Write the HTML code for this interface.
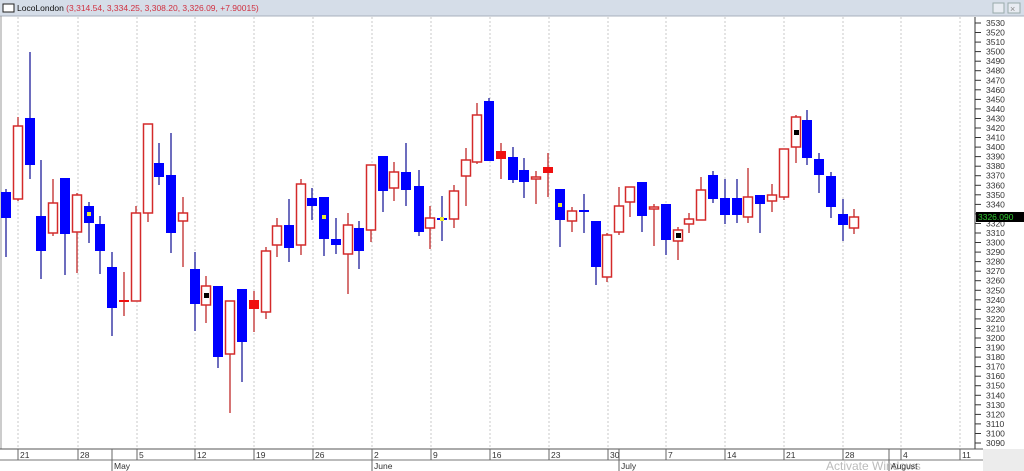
<!DOCTYPE html>
<html><head><meta charset="utf-8"><style>
body{margin:0;width:1024px;height:471px;overflow:hidden;background:#fff;font-family:"Liberation Sans",sans-serif}
svg{display:block}
.b{fill:#0000ff}.r{fill:#fff;stroke:#d42a2a;stroke-width:1.5}.f{fill:#f01010}
.wb{stroke:#3c3ca8;stroke-width:1.5}.wr{stroke:#c84646;stroke-width:1.5}
.g{stroke:#c8c8c8;stroke-dasharray:2,2;stroke-width:1}
.al{font-size:8.5px;fill:#333}
.dl{font-size:8.5px;fill:#333}
</style></head><body>
<svg width="1024" height="471" xmlns="http://www.w3.org/2000/svg">
<rect x="0" y="0" width="1024" height="16" fill="#d5dde8"/>
<line x1="0" y1="16" x2="1024" y2="16" stroke="#a8b0bc"/>
<rect x="3" y="4" width="11" height="8" fill="#fff" stroke="#222" stroke-width="1"/>
<text x="17" y="11" font-size="8.5" fill="#111">LocoLondon <tspan fill="#d03040">(3,314.54, 3,334.25, 3,308.20, 3,326.09, +7.90015)</tspan></text>
<rect x="993" y="3" width="11" height="10" fill="#e8ecf2" stroke="#9aa"/>
<rect x="1008" y="3" width="12" height="10" fill="#e8ecf2" stroke="#9aa"/>
<text x="1010" y="12" font-size="9" fill="#888">×</text>
<line x1="1" y1="16" x2="1" y2="471" stroke="#999"/>
<g class="g">
<line x1="18" y1="17" x2="18" y2="449"/><line x1="78" y1="17" x2="78" y2="449"/><line x1="137" y1="17" x2="137" y2="449"/><line x1="195" y1="17" x2="195" y2="449"/><line x1="254" y1="17" x2="254" y2="449"/><line x1="313" y1="17" x2="313" y2="449"/><line x1="372" y1="17" x2="372" y2="449"/><line x1="431" y1="17" x2="431" y2="449"/><line x1="490" y1="17" x2="490" y2="449"/><line x1="549" y1="17" x2="549" y2="449"/><line x1="608" y1="17" x2="608" y2="449"/><line x1="666" y1="17" x2="666" y2="449"/><line x1="725" y1="17" x2="725" y2="449"/><line x1="784" y1="17" x2="784" y2="449"/><line x1="843" y1="17" x2="843" y2="449"/><line x1="901" y1="17" x2="901" y2="449"/><line x1="960" y1="17" x2="960" y2="449"/>
</g>
<!-- candles -->
<line class="wb" x1="6" y1="189" x2="6" y2="257"/><rect class="b" x="1" y="192" width="10" height="26"/>
<line class="wr" x1="18" y1="117" x2="18" y2="201"/><rect class="r" x="13.5" y="126" width="9" height="73"/>
<line class="wb" x1="30" y1="52" x2="30" y2="179"/><rect class="b" x="25" y="118" width="10" height="47"/>
<line class="wb" x1="41" y1="160" x2="41" y2="279"/><rect class="b" x="36" y="216" width="10" height="35"/>
<line class="wr" x1="53" y1="179" x2="53" y2="236"/><rect class="r" x="48.5" y="203" width="9" height="30"/>
<line class="wb" x1="65" y1="178" x2="65" y2="275"/><rect class="b" x="60" y="178" width="10" height="56"/>
<line class="wr" x1="77" y1="193" x2="77" y2="273"/><rect class="r" x="72.5" y="195" width="9" height="37"/>
<line class="wb" x1="89" y1="202" x2="89" y2="243"/><rect class="b" x="84" y="206" width="10" height="17"/><rect x="87" y="212" width="4" height="4" fill="#ee3"/>
<line class="wb" x1="100" y1="216" x2="100" y2="274"/><rect class="b" x="95" y="224" width="10" height="27"/>
<line class="wb" x1="112" y1="252" x2="112" y2="336"/><rect class="b" x="107" y="267" width="10" height="41"/>
<line class="wr" x1="124" y1="272" x2="124" y2="316"/><rect class="f" x="119" y="300" width="10" height="2"/>
<line class="wr" x1="136" y1="206" x2="136" y2="301"/><rect class="r" x="131.5" y="213" width="9" height="88"/>
<line class="wr" x1="148" y1="124" x2="148" y2="222"/><rect class="r" x="143.5" y="124" width="9" height="89"/>
<line class="wb" x1="159" y1="143" x2="159" y2="185"/><rect class="b" x="154" y="163" width="10" height="14"/>
<line class="wb" x1="171" y1="133" x2="171" y2="253"/><rect class="b" x="166" y="175" width="10" height="58"/>
<line class="wr" x1="183" y1="197" x2="183" y2="267"/><rect class="r" x="178.5" y="213" width="9" height="8"/>
<line class="wb" x1="195" y1="252" x2="195" y2="331"/><rect class="b" x="190" y="269" width="10" height="35"/>
<line class="wr" x1="206" y1="276" x2="206" y2="323"/><rect class="r" x="201.5" y="286" width="9" height="19"/><rect x="204" y="293" width="5" height="5" fill="#000"/>
<line class="wb" x1="218" y1="286" x2="218" y2="368"/><rect class="b" x="213" y="286" width="10" height="71"/>
<line class="wr" x1="230" y1="301" x2="230" y2="413"/><rect class="r" x="225.5" y="301" width="9" height="53"/>
<line class="wb" x1="242" y1="289" x2="242" y2="382"/><rect class="b" x="237" y="289" width="10" height="53"/>
<line class="wr" x1="254" y1="291" x2="254" y2="332"/><rect class="f" x="249" y="300" width="10" height="9"/>
<line class="wr" x1="266" y1="247" x2="266" y2="319"/><rect class="r" x="261.5" y="251" width="9" height="61"/>
<line class="wr" x1="277" y1="218" x2="277" y2="257"/><rect class="r" x="272.5" y="226" width="9" height="19"/>
<line class="wb" x1="289" y1="199" x2="289" y2="262"/><rect class="b" x="284" y="225" width="10" height="23"/>
<line class="wr" x1="301" y1="179" x2="301" y2="255"/><rect class="r" x="296.5" y="184" width="9" height="61"/>
<line class="wb" x1="312" y1="188" x2="312" y2="220"/><rect class="b" x="307" y="198" width="10" height="8"/>
<line class="wb" x1="324" y1="197" x2="324" y2="256"/><rect class="b" x="319" y="197" width="10" height="42"/><rect x="322" y="215" width="4" height="4" fill="#ee3"/>
<line class="wb" x1="336" y1="218" x2="336" y2="254"/><rect class="b" x="331" y="239" width="10" height="6"/>
<line class="wr" x1="348" y1="213" x2="348" y2="294"/><rect class="r" x="343.5" y="225" width="9" height="29"/>
<line class="wb" x1="359" y1="221" x2="359" y2="269"/><rect class="b" x="354" y="228" width="10" height="23"/>
<line class="wr" x1="371" y1="165" x2="371" y2="242"/><rect class="r" x="366.5" y="165" width="9" height="65"/>
<line class="wb" x1="383" y1="156" x2="383" y2="212"/><rect class="b" x="378" y="156" width="10" height="35"/>
<line class="wr" x1="394" y1="162" x2="394" y2="201"/><rect class="r" x="389.5" y="172" width="9" height="16"/>
<line class="wb" x1="406" y1="143" x2="406" y2="206"/><rect class="b" x="401" y="172" width="10" height="18"/>
<line class="wb" x1="419" y1="170" x2="419" y2="236"/><rect class="b" x="414" y="186" width="10" height="46"/>
<line class="wr" x1="430" y1="206" x2="430" y2="249"/><rect class="r" x="425.5" y="218" width="9" height="10"/>
<line class="wb" x1="442" y1="196" x2="442" y2="241"/><rect class="b" x="437" y="218" width="10" height="2"/><rect x="440" y="217" width="4" height="4" fill="#ee3"/>
<line class="wr" x1="454" y1="185" x2="454" y2="228"/><rect class="r" x="449.5" y="191" width="9" height="28"/>
<line class="wr" x1="466" y1="148" x2="466" y2="206"/><rect class="r" x="461.5" y="160" width="9" height="16"/>
<line class="wr" x1="477" y1="103" x2="477" y2="164"/><rect class="r" x="472.5" y="115" width="9" height="47"/>
<line class="wb" x1="489" y1="98" x2="489" y2="161"/><rect class="b" x="484" y="101" width="10" height="60"/>
<line class="wr" x1="501" y1="143" x2="501" y2="179"/><rect class="f" x="496" y="151" width="10" height="8"/>
<line class="wb" x1="513" y1="147" x2="513" y2="183"/><rect class="b" x="508" y="157" width="10" height="23"/>
<line class="wb" x1="524" y1="158" x2="524" y2="198"/><rect class="b" x="519" y="170" width="10" height="12"/>
<line class="wr" x1="536" y1="171" x2="536" y2="204"/><rect class="r" x="531.5" y="177" width="9" height="2"/>
<line class="wr" x1="548" y1="153" x2="548" y2="197"/><rect class="f" x="543" y="167" width="10" height="6"/>
<line class="wb" x1="560" y1="189" x2="560" y2="247"/><rect class="b" x="555" y="189" width="10" height="31"/><rect x="558" y="203" width="4" height="4" fill="#ee3"/>
<line class="wr" x1="572" y1="207" x2="572" y2="232"/><rect class="r" x="567.5" y="211" width="9" height="10"/>
<line class="wb" x1="584" y1="194" x2="584" y2="233"/><rect class="b" x="579" y="210" width="10" height="2"/>
<line class="wb" x1="596" y1="221" x2="596" y2="285"/><rect class="b" x="591" y="221" width="10" height="46"/>
<line class="wr" x1="607" y1="233" x2="607" y2="282"/><rect class="r" x="602.5" y="235" width="9" height="42"/>
<line class="wr" x1="619" y1="187" x2="619" y2="235"/><rect class="r" x="614.5" y="206" width="9" height="26"/>
<line class="wr" x1="630" y1="187" x2="630" y2="217"/><rect class="r" x="625.5" y="187" width="9" height="15"/>
<line class="wb" x1="642" y1="182" x2="642" y2="232"/><rect class="b" x="637" y="182" width="10" height="34"/>
<line class="wr" x1="654" y1="204" x2="654" y2="246"/><rect class="r" x="649.5" y="207" width="9" height="2"/>
<line class="wb" x1="666" y1="204" x2="666" y2="255"/><rect class="b" x="661" y="204" width="10" height="36"/>
<line class="wr" x1="678" y1="227" x2="678" y2="260"/><rect class="r" x="673.5" y="230" width="9" height="11"/><rect x="676" y="233" width="5" height="5" fill="#000"/>
<line class="wr" x1="689" y1="213" x2="689" y2="233"/><rect class="r" x="684.5" y="219" width="9" height="5"/>
<line class="wr" x1="701" y1="177" x2="701" y2="220"/><rect class="r" x="696.5" y="190" width="9" height="30"/>
<line class="wb" x1="713" y1="171" x2="713" y2="203"/><rect class="b" x="708" y="175" width="10" height="24"/>
<line class="wb" x1="725" y1="179" x2="725" y2="224"/><rect class="b" x="720" y="198" width="10" height="17"/>
<line class="wb" x1="737" y1="179" x2="737" y2="223"/><rect class="b" x="732" y="198" width="10" height="17"/>
<line class="wr" x1="748" y1="168" x2="748" y2="223"/><rect class="r" x="743.5" y="197" width="9" height="20"/>
<line class="wb" x1="760" y1="195" x2="760" y2="233"/><rect class="b" x="755" y="195" width="10" height="9"/>
<line class="wr" x1="772" y1="184" x2="772" y2="212"/><rect class="r" x="767.5" y="195" width="9" height="6"/>
<line class="wr" x1="784" y1="149" x2="784" y2="200"/><rect class="r" x="779.5" y="149" width="9" height="48"/>
<line class="wr" x1="796" y1="115" x2="796" y2="163"/><rect class="r" x="791.5" y="117" width="9" height="30"/><rect x="794" y="130" width="5" height="5" fill="#000"/>
<line class="wb" x1="807" y1="110" x2="807" y2="165"/><rect class="b" x="802" y="120" width="10" height="38"/>
<line class="wb" x1="819" y1="153" x2="819" y2="193"/><rect class="b" x="814" y="159" width="10" height="16"/>
<line class="wb" x1="831" y1="172" x2="831" y2="218"/><rect class="b" x="826" y="176" width="10" height="31"/>
<line class="wb" x1="843" y1="199" x2="843" y2="241"/><rect class="b" x="838" y="214" width="10" height="11"/>
<line class="wr" x1="854" y1="209" x2="854" y2="234"/><rect class="r" x="849.5" y="217" width="9" height="11"/>
<!-- price axis -->
<line x1="975" y1="17" x2="975" y2="449" stroke="#333"/>
<g stroke="#333">
<line x1="975" y1="23" x2="981" y2="23"/><line x1="975" y1="32.5" x2="981" y2="32.5"/><line x1="975" y1="42.1" x2="981" y2="42.1"/><line x1="975" y1="51.6" x2="981" y2="51.6"/><line x1="975" y1="61.2" x2="981" y2="61.2"/><line x1="975" y1="70.7" x2="981" y2="70.7"/><line x1="975" y1="80.3" x2="981" y2="80.3"/><line x1="975" y1="89.8" x2="981" y2="89.8"/><line x1="975" y1="99.4" x2="981" y2="99.4"/><line x1="975" y1="108.9" x2="981" y2="108.9"/><line x1="975" y1="118.5" x2="981" y2="118.5"/><line x1="975" y1="128" x2="981" y2="128"/><line x1="975" y1="137.5" x2="981" y2="137.5"/><line x1="975" y1="147.1" x2="981" y2="147.1"/><line x1="975" y1="156.6" x2="981" y2="156.6"/><line x1="975" y1="166.2" x2="981" y2="166.2"/><line x1="975" y1="175.7" x2="981" y2="175.7"/><line x1="975" y1="185.3" x2="981" y2="185.3"/><line x1="975" y1="194.8" x2="981" y2="194.8"/><line x1="975" y1="204.4" x2="981" y2="204.4"/><line x1="975" y1="213.9" x2="981" y2="213.9"/><line x1="975" y1="223.5" x2="981" y2="223.5"/><line x1="975" y1="233" x2="981" y2="233"/><line x1="975" y1="242.5" x2="981" y2="242.5"/><line x1="975" y1="252.1" x2="981" y2="252.1"/><line x1="975" y1="261.6" x2="981" y2="261.6"/><line x1="975" y1="271.2" x2="981" y2="271.2"/><line x1="975" y1="280.7" x2="981" y2="280.7"/><line x1="975" y1="290.3" x2="981" y2="290.3"/><line x1="975" y1="299.8" x2="981" y2="299.8"/><line x1="975" y1="309.4" x2="981" y2="309.4"/><line x1="975" y1="318.9" x2="981" y2="318.9"/><line x1="975" y1="328.5" x2="981" y2="328.5"/><line x1="975" y1="338" x2="981" y2="338"/><line x1="975" y1="347.5" x2="981" y2="347.5"/><line x1="975" y1="357.1" x2="981" y2="357.1"/><line x1="975" y1="366.6" x2="981" y2="366.6"/><line x1="975" y1="376.2" x2="981" y2="376.2"/><line x1="975" y1="385.7" x2="981" y2="385.7"/><line x1="975" y1="395.3" x2="981" y2="395.3"/><line x1="975" y1="404.8" x2="981" y2="404.8"/><line x1="975" y1="414.4" x2="981" y2="414.4"/><line x1="975" y1="423.9" x2="981" y2="423.9"/><line x1="975" y1="433.5" x2="981" y2="433.5"/><line x1="975" y1="443" x2="981" y2="443"/>
</g>
<g class="al">
<text x="986" y="26">3530</text><text x="986" y="35.5">3520</text><text x="986" y="45.1">3510</text><text x="986" y="54.6">3500</text><text x="986" y="64.2">3490</text><text x="986" y="73.7">3480</text><text x="986" y="83.3">3470</text><text x="986" y="92.8">3460</text><text x="986" y="102.4">3450</text><text x="986" y="111.9">3440</text><text x="986" y="121.5">3430</text><text x="986" y="131">3420</text><text x="986" y="140.5">3410</text><text x="986" y="150.1">3400</text><text x="986" y="159.6">3390</text><text x="986" y="169.2">3380</text><text x="986" y="178.7">3370</text><text x="986" y="188.3">3360</text><text x="986" y="197.8">3350</text><text x="986" y="207.4">3340</text><text x="986" y="226.5">3320</text><text x="986" y="236">3310</text><text x="986" y="245.5">3300</text><text x="986" y="255.1">3290</text><text x="986" y="264.6">3280</text><text x="986" y="274.2">3270</text><text x="986" y="283.7">3260</text><text x="986" y="293.3">3250</text><text x="986" y="302.8">3240</text><text x="986" y="312.4">3230</text><text x="986" y="321.9">3220</text><text x="986" y="331.5">3210</text><text x="986" y="341">3200</text><text x="986" y="350.5">3190</text><text x="986" y="360.1">3180</text><text x="986" y="369.6">3170</text><text x="986" y="379.2">3160</text><text x="986" y="388.7">3150</text><text x="986" y="398.3">3140</text><text x="986" y="407.8">3130</text><text x="986" y="417.4">3120</text><text x="986" y="426.9">3110</text><text x="986" y="436.5">3100</text><text x="986" y="446">3090</text>
</g>
<rect x="976" y="212" width="48" height="10" fill="#000"/>
<text x="978" y="220" font-size="8.5" fill="#2ecc2e">3326.090</text>
<!-- date axis -->
<rect x="0" y="449" width="1024" height="22" fill="#fff"/>
<rect x="983" y="449" width="41" height="22" fill="#ececec"/>
<line x1="0" y1="449" x2="983" y2="449" stroke="#555"/>
<line x1="0" y1="460" x2="983" y2="460" stroke="#777"/>
<g stroke="#666">
<line x1="18" y1="449" x2="18" y2="460"/><line x1="78" y1="449" x2="78" y2="460"/><line x1="137" y1="449" x2="137" y2="460"/><line x1="195" y1="449" x2="195" y2="460"/><line x1="254" y1="449" x2="254" y2="460"/><line x1="313" y1="449" x2="313" y2="460"/><line x1="372" y1="449" x2="372" y2="471"/><line x1="431" y1="449" x2="431" y2="460"/><line x1="490" y1="449" x2="490" y2="460"/><line x1="549" y1="449" x2="549" y2="460"/><line x1="608" y1="449" x2="608" y2="460"/><line x1="666" y1="449" x2="666" y2="460"/><line x1="725" y1="449" x2="725" y2="460"/><line x1="784" y1="449" x2="784" y2="460"/><line x1="843" y1="449" x2="843" y2="460"/><line x1="901" y1="449" x2="901" y2="460"/><line x1="960" y1="449" x2="960" y2="460"/>
<line x1="112" y1="449" x2="112" y2="471"/><line x1="619" y1="449" x2="619" y2="471"/><line x1="889" y1="449" x2="889" y2="471"/>
</g>
<g class="dl">
<text x="20" y="458">21</text><text x="80" y="458">28</text><text x="139" y="458">5</text><text x="197" y="458">12</text><text x="256" y="458">19</text><text x="315" y="458">26</text><text x="374" y="458">2</text><text x="433" y="458">9</text><text x="492" y="458">16</text><text x="551" y="458">23</text><text x="610" y="458">30</text><text x="668" y="458">7</text><text x="727" y="458">14</text><text x="786" y="458">21</text><text x="845" y="458">28</text><text x="903" y="458">4</text><text x="962" y="458">11</text>
<text x="114" y="469">May</text><text x="374" y="469">June</text><text x="621" y="469">July</text>
</g>
<text x="826" y="470" font-size="12" fill="#bbb">Activate Windows</text>
<text x="891" y="469" font-size="8.5" fill="#333">August</text>
</svg>
</body></html>
